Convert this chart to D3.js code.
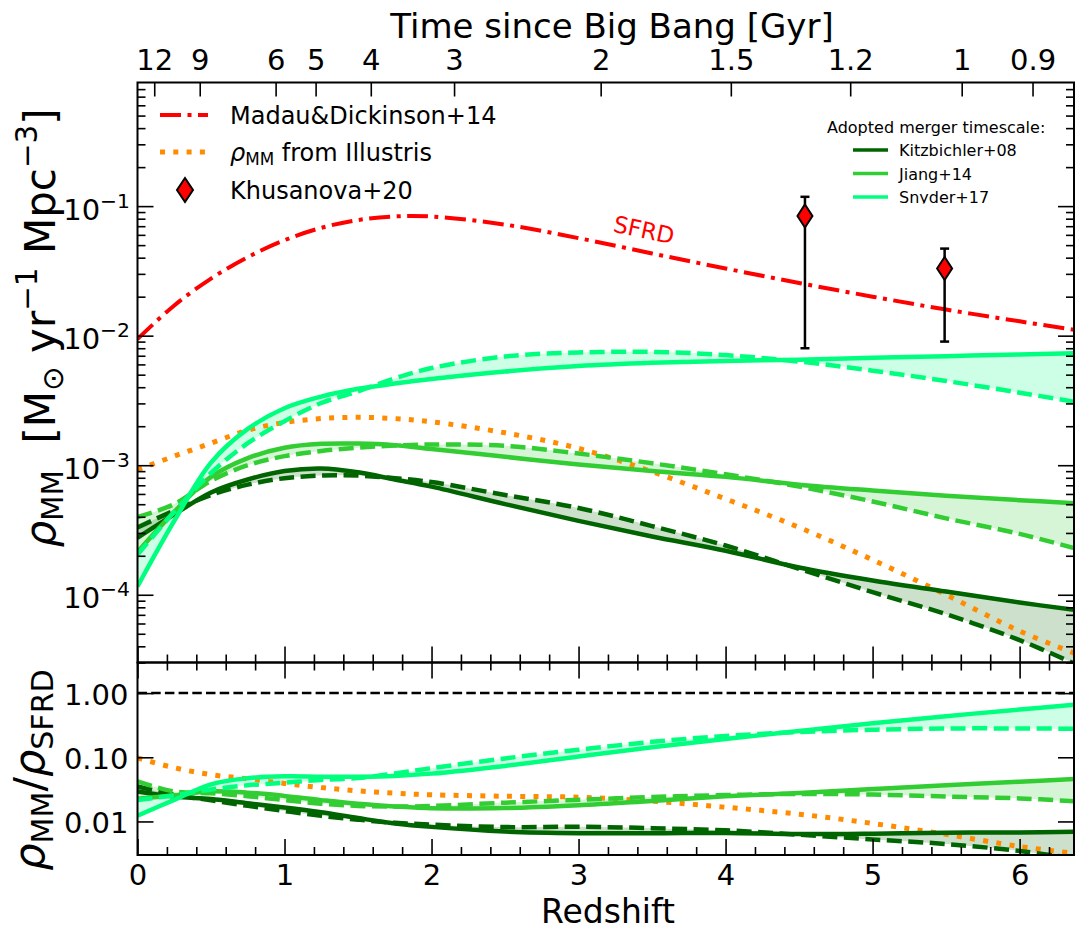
<!DOCTYPE html>
<html><head><meta charset="utf-8">
<script src="https://cdn.jsdelivr.net/npm/d3@7"></script>
<style>body{margin:0;background:#fff} svg{display:block} text{font-family:"DejaVu Sans",sans-serif;white-space:pre}</style>
</head><body><svg id="c" width="1075" height="931"></svg>
<script>
// ---------------- data ----------------
const redshift = [0,0.25,0.5,0.75,1,1.25,1.5,1.75,2,2.5,3,3.5,4,4.5,5,5.5,6,6.37];
// Madau & Dickinson 2014 SFRD [Msun/yr/Mpc^3]
const sfrd = [0.00943,0.0171,0.0276,0.0404,0.0546,0.0680,0.0781,0.0833,0.0831,0.0720,0.0566,0.0431,0.0330,0.0255,0.0200,0.0159,0.0129,0.0111];
// log10 rho_MM curves
const illustrisLog   = [-3.035,-2.93,-2.83,-2.73,-2.67,-2.64,-2.63,-2.64,-2.665,-2.75,-2.87,-3.05,-3.26,-3.48,-3.73,-4.0,-4.28,-4.45];
const kitzSolidLog   = [-3.56,-3.38,-3.21,-3.11,-3.045,-3.025,-3.055,-3.11,-3.165,-3.30,-3.43,-3.55,-3.66,-3.79,-3.89,-3.975,-4.06,-4.116];
const kitzDashedLog  = [-3.48,-3.35,-3.23,-3.15,-3.10,-3.08,-3.08,-3.10,-3.13,-3.23,-3.33,-3.47,-3.62,-3.80,-3.98,-4.15,-4.35,-4.53];
const jiangSolidLog  = [-3.67,-3.36,-3.09,-2.945,-2.865,-2.835,-2.833,-2.845,-2.875,-2.935,-2.995,-3.045,-3.09,-3.15,-3.195,-3.235,-3.27,-3.293];
const jiangDashedLog = [-3.40,-3.30,-3.12,-3.00,-2.93,-2.89,-2.865,-2.848,-2.84,-2.85,-2.91,-2.985,-3.07,-3.165,-3.28,-3.41,-3.53,-3.64];
const snyderSolidLog = [-3.936,-3.43,-2.98,-2.72,-2.56,-2.47,-2.41,-2.37,-2.335,-2.277,-2.235,-2.21,-2.195,-2.185,-2.17,-2.158,-2.145,-2.135];
const snyderDashedLog= [-3.69,-3.36,-3.06,-2.83,-2.66,-2.52,-2.43,-2.33,-2.25,-2.16,-2.13,-2.125,-2.15,-2.20,-2.27,-2.35,-2.44,-2.51];
// Khusanova+20 points
const khusZ   = [4.54, 5.49];
const khusVal = [0.084, 0.033];
const khusLo  = [0.0080, 0.0090];
const khusHi  = [0.118, 0.047];
// tick labels
const ageTicks = [12,9,6,5,4,3,2,1.5,1.2,1,0.9];
const ageLabels = ["12","9","6","5","4","3","2","1.5","1.2","1","0.9"];
const zTicks = [0,1,2,3,4,5,6];
const topYTicks = [1e-4,1e-3,1e-2,1e-1];
const topYExp = ["−4","−3","−2","−1"];
const botYTicks = [0.01,0.1,1];
const botYLabels = ["0.01","0.10","1.00"];

const models = [
  {name:"Kitzbichler+08", color:"#006400", solid:kitzSolidLog, dashed:kitzDashedLog},
  {name:"Jiang+14", color:"#32cd32", solid:jiangSolidLog, dashed:jiangDashedLog},
  {name:"Snyder+17", color:"#00ff7f", solid:snyderSolidLog, dashed:snyderDashedLog}
];

// ---------------- layout ----------------
const X0=137.5, X1=1074, T0=82.5, T1=662.5, B1=855;
const svg = d3.select("#c");
const x = d3.scaleLinear().domain([0,6.37]).range([X0,X1]);
const yT = d3.scaleLog().domain([3e-5,0.9]).range([T1,T0]);
const yB = d3.scaleLog().domain([3e-3,3]).range([B1,T1]);

const defs = svg.append("defs");
defs.append("clipPath").attr("id","clipT").append("rect").attr("x",X0).attr("y",T0).attr("width",X1-X0).attr("height",T1-T0);
defs.append("clipPath").attr("id","clipB").append("rect").attr("x",X0).attr("y",T1).attr("width",X1-X0).attr("height",B1-T1);
defs.append("clipPath").attr("id","clipLeg").append("rect").attr("x",800).attr("y",100).attr("width",275).attr("height",103.5);

const curve = d3.curveCatmullRom.alpha(0.5);
const idx = d3.range(redshift.length);
const p10 = v=>Math.pow(10,v);
const SFRD_DASH = "21,6.5,4,6.5", SFRD_W = 4;

function drawPanel(g, yS, val){
  models.forEach(m=>{
    g.append("path").attr("d", d3.area().curve(curve)
      .x(i=>x(redshift[i])).y0(i=>yS(val(m.solid,i))).y1(i=>yS(val(m.dashed,i)))(idx))
      .attr("fill",m.color).attr("fill-opacity",0.2).attr("stroke","none");
  });
  const line = arr => d3.line().curve(curve).x(i=>x(redshift[i])).y(i=>yS(val(arr,i)))(idx);
  g.append("path").attr("d",line(illustrisLog)).attr("fill","none").attr("stroke","#ff8c00")
    .attr("stroke-width",5).attr("stroke-dasharray","5,8.3");
  models.forEach(m=>{
    g.append("path").attr("d",line(m.dashed)).attr("fill","none").attr("stroke",m.color)
      .attr("stroke-width",4.5).attr("stroke-dasharray","15,6.5");
    g.append("path").attr("d",line(m.solid)).attr("fill","none").attr("stroke",m.color)
      .attr("stroke-width",4.5);
  });
}

// top panel
const gT = svg.append("g").attr("clip-path","url(#clipT)");
gT.append("path").attr("d", d3.line().curve(curve).x(i=>x(redshift[i])).y(i=>yT(sfrd[i]))(idx))
  .attr("fill","none").attr("stroke","#ff0000").attr("stroke-width",SFRD_W).attr("stroke-dasharray",SFRD_DASH);
drawPanel(gT, yT, (arr,i)=>p10(arr[i]));

// bottom panel (ratio to SFRD)
const gB = svg.append("g").attr("clip-path","url(#clipB)");
gB.append("line").attr("x1",X0).attr("x2",X1).attr("y1",yB(1)).attr("y2",yB(1))
  .attr("stroke","#000").attr("stroke-width",2.5).attr("stroke-dasharray","9.5,4.2");
drawPanel(gB, yB, (arr,i)=>p10(arr[i])/sfrd[i]);

// Khusanova points
const gK = svg.append("g");
khusZ.forEach((z,i)=>{
  const cx=x(z);
  gK.append("line").attr("x1",cx).attr("x2",cx).attr("y1",yT(khusLo[i])).attr("y2",yT(khusHi[i])).attr("stroke","#000").attr("stroke-width",2.5);
  [khusLo[i],khusHi[i]].forEach(v=>gK.append("line").attr("x1",cx-4.5).attr("x2",cx+4.5).attr("y1",yT(v)).attr("y2",yT(v)).attr("stroke","#000").attr("stroke-width",2.5));
  const cy=yT(khusVal[i]);
  gK.append("path").attr("d",`M${cx},${cy-11.5}L${cx+7.5},${cy}L${cx},${cy+11.5}L${cx-7.5},${cy}Z`)
    .attr("fill","#ff0000").attr("stroke","#000").attr("stroke-width",2);
});

// SFRD label
svg.append("text").attr("transform",`translate(644,230) rotate(12)`).attr("text-anchor","middle")
  .attr("dy",8).attr("font-size",23).attr("fill","#ff0000").text("SFRD");

// ---------------- axes ----------------
function styleAxis(g, fs){
  g.select(".domain").remove();
  g.selectAll(".tick line").attr("stroke","#000").attr("stroke-width",1.6);
  g.selectAll(".tick text").attr("font-family","DejaVu Sans").attr("font-size",fs||29).attr("fill","#000");
  return g;
}
const minorZ = d3.range(1,32).map(k=>k*0.2).filter(v=>Math.abs(v-Math.round(v))>1e-6 && v<=6.37);
const minorT = [];
[1e-5,1e-4,1e-3,1e-2,1e-1].forEach(d=>{for(let k=2;k<=9;k++){const v=k*d; if(v>=3e-5 && v<0.9) minorT.push(v);}});

// top panel left
styleAxis(svg.append("g").attr("transform",`translate(${X0},0)`)
  .call(d3.axisLeft(yT).tickValues(topYTicks).tickSizeInner(-16).tickSizeOuter(0).tickPadding(7.5).tickFormat(()=>"")));
styleAxis(svg.append("g").attr("transform",`translate(${X0},0)`)
  .call(d3.axisLeft(yT).tickValues(minorT).tickSizeInner(-8).tickSizeOuter(0).tickFormat(()=>"")));
styleAxis(svg.append("g").attr("transform",`translate(${X1},0)`)
  .call(d3.axisRight(yT).tickValues(topYTicks).tickSizeInner(-16).tickSizeOuter(0).tickFormat(()=>"")));
styleAxis(svg.append("g").attr("transform",`translate(${X1},0)`)
  .call(d3.axisRight(yT).tickValues(minorT).tickSizeInner(-8).tickSizeOuter(0).tickFormat(()=>"")));
// top-left tick labels 10^n
topYTicks.forEach((v,i)=>{
  const t = svg.append("text").attr("x",X0-7.5).attr("y",yT(v)+13.5).attr("text-anchor","end").attr("font-size",29).attr("fill","#000");
  t.append("tspan").text("10");
  t.append("tspan").attr("font-size",20.3).attr("dy",-12).text(topYExp[i]);
});
// top panel bottom spine ticks (pointing up)
styleAxis(svg.append("g").attr("transform",`translate(0,${T1})`)
  .call(d3.axisBottom(x).tickValues(zTicks).tickSizeInner(-16).tickSizeOuter(0).tickFormat(()=>"")));
styleAxis(svg.append("g").attr("transform",`translate(0,${T1})`)
  .call(d3.axisBottom(x).tickValues(minorZ).tickSizeInner(-8).tickSizeOuter(0).tickFormat(()=>"")));
// top secondary axis: time since Big Bang (flat LCDM, H0=70, Om=0.3)
const H0inv = 977.8/70, Om=0.3, OL=0.7;
const Acos = 2/(3*Math.sqrt(OL))*H0inv, Bcos = Math.sqrt(OL/Om);
const zOfAge = t => Math.pow(Math.sinh(t/Acos)/Bcos, -2/3) - 1;
styleAxis(svg.append("g").attr("transform",`translate(0,${T0})`)
  .call(d3.axisTop(x).tickValues(ageTicks.map(zOfAge)).tickSizeInner(-14).tickSizeOuter(0).tickPadding(12.5)
    .tickFormat((d,i)=>ageLabels[i])));

// bottom panel
styleAxis(svg.append("g").attr("transform",`translate(${X0},0)`)
  .call(d3.axisLeft(yB).tickValues(botYTicks).tickSizeInner(-16).tickSizeOuter(0).tickPadding(9)
    .tickFormat((d,i)=>botYLabels[i])))
  .selectAll(".tick text").attr("dy",11.5);
styleAxis(svg.append("g").attr("transform",`translate(${X1},0)`)
  .call(d3.axisRight(yB).tickValues(botYTicks).tickSizeInner(-16).tickSizeOuter(0).tickFormat(()=>"")));
styleAxis(svg.append("g").attr("transform",`translate(0,${T1})`)
  .call(d3.axisTop(x).tickValues(zTicks).tickSizeInner(-16).tickSizeOuter(0).tickFormat(()=>"")));
styleAxis(svg.append("g").attr("transform",`translate(0,${T1})`)
  .call(d3.axisTop(x).tickValues(minorZ).tickSizeInner(-8).tickSizeOuter(0).tickFormat(()=>"")));
styleAxis(svg.append("g").attr("transform",`translate(0,${B1})`)
  .call(d3.axisBottom(x).tickValues(zTicks).tickSizeInner(-16).tickSizeOuter(0).tickPadding(9).tickFormat(d3.format("d"))));
styleAxis(svg.append("g").attr("transform",`translate(0,${B1})`)
  .call(d3.axisBottom(x).tickValues(minorZ).tickSizeInner(-8).tickSizeOuter(0).tickFormat(()=>"")));

// spines
svg.append("rect").attr("x",X0).attr("y",T0).attr("width",X1-X0).attr("height",T1-T0).attr("fill","none").attr("stroke","#000").attr("stroke-width",2);
svg.append("rect").attr("x",X0).attr("y",T1).attr("width",X1-X0).attr("height",B1-T1).attr("fill","none").attr("stroke","#000").attr("stroke-width",2);

// ---------------- labels ----------------
function mathText(t, parts, size){
  let shift=0;
  parts.forEach(p=>{
    const target = p.sub? size*0.2 : p.sup? -size*0.42 : 0;
    const ts = t.append("tspan").text(p.t);
    if(target!==shift){ ts.attr("dy", target-shift); shift=target; }
    if(p.sub||p.sup) ts.attr("font-size", size*0.7);
    if(p.it) ts.attr("font-style","italic");
  });
  return t;
}
svg.append("text").attr("x",612).attr("y",38).attr("text-anchor","middle").attr("font-size",34).attr("fill","#000").text("Time since Big Bang [Gyr]");
svg.append("text").attr("x",608).attr("y",923).attr("text-anchor","middle").attr("font-size",33).attr("fill","#000").text("Redshift");
mathText(svg.append("text").attr("transform","translate(55,328) rotate(-90)").attr("text-anchor","middle").attr("font-size",42).attr("fill","#000"),
  [{t:"ρ",it:true},{t:"MM",sub:true},{t:"  [M"},{t:"⊙",sub:true},{t:" yr"},{t:"−1",sup:true},{t:" Mpc"},{t:"−3",sup:true},{t:"]"}],42);
mathText(svg.append("text").attr("transform","translate(44,770) rotate(-90)").attr("text-anchor","middle").attr("font-size",43).attr("fill","#000"),
  [{t:"ρ",it:true},{t:"MM",sub:true},{t:"/"},{t:"ρ",it:true},{t:"SFRD",sub:true}],43);

// left legend
const lg = svg.append("g");
lg.append("line").attr("x1",160).attr("x2",208).attr("y1",115).attr("y2",115).attr("stroke","#ff0000").attr("stroke-width",SFRD_W).attr("stroke-dasharray",SFRD_DASH);
lg.append("line").attr("x1",160).attr("x2",208).attr("y1",152).attr("y2",152).attr("stroke","#ff8c00").attr("stroke-width",5).attr("stroke-dasharray","5,8.3");
lg.append("path").attr("d","M185,178L193,190L185,202L177,190Z").attr("fill","#ff0000").attr("stroke","#000").attr("stroke-width",2);
lg.append("text").attr("x",230).attr("y",123.5).attr("font-size",24).attr("fill","#000").text("Madau&Dickinson+14");
mathText(lg.append("text").attr("x",230).attr("y",160.5).attr("font-size",24).attr("fill","#000"),
  [{t:"ρ",it:true},{t:"MM",sub:true},{t:" from Illustris"}],24);
lg.append("text").attr("x",230).attr("y",198.5).attr("font-size",24).attr("fill","#000").text("Khusanova+20");

// right legend (clipped as in the figure)
const rg = svg.append("g").attr("clip-path","url(#clipLeg)");
rg.append("text").attr("x",827).attr("y",133).attr("font-size",16).attr("fill","#000").text("Adopted merger timescale:");
models.forEach((m,i)=>{
  const yy=150+i*23.5;
  rg.append("line").attr("x1",853).attr("x2",888).attr("y1",yy).attr("y2",yy).attr("stroke",m.color).attr("stroke-width",3.5);
  rg.append("text").attr("x",899).attr("y",yy+6).attr("font-size",16).attr("fill","#000").text(m.name);
});
</script></body></html>
